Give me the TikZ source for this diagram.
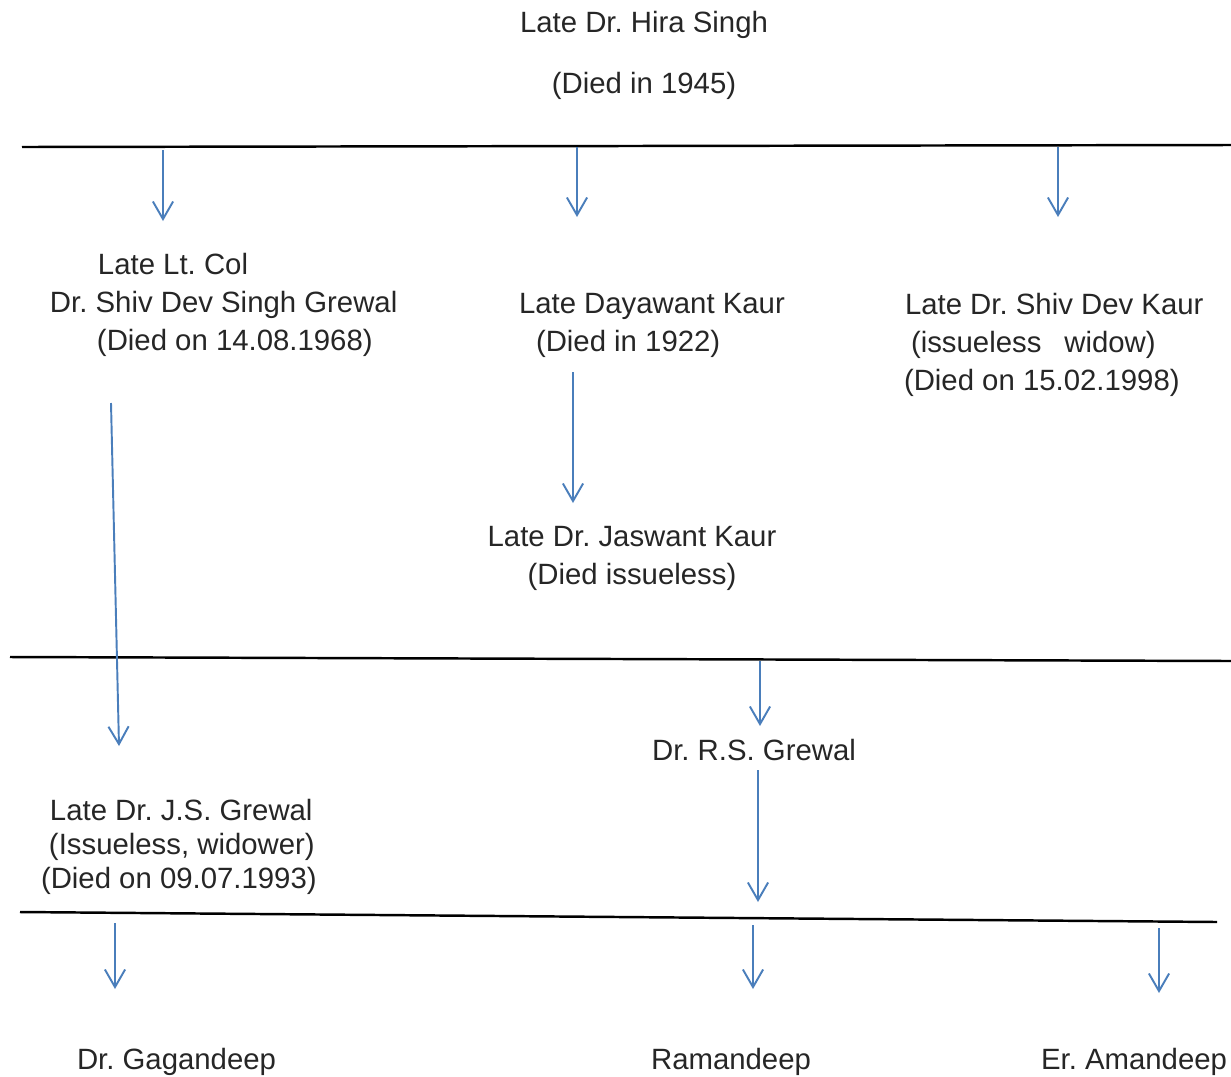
\documentclass[tikz,border=0pt]{standalone}
\usepackage{fontspec}
\setmainfont{Liberation Sans}
\usetikzlibrary{arrows.meta}
\frenchspacing
\newlength{\pxu}\setlength{\pxu}{0.02cm}
\definecolor{linkblue}{RGB}{74,126,187}
\definecolor{inkgray}{RGB}{38,38,38}
\tikzset{person/.style={inner sep=0pt,outer sep=0pt,text=inkgray,align=left,
        anchor=base west,font=\fontsize{16.7}{21.6}\selectfont},
        generation/.style={line width=1.4pt,black},
        descent/.style={draw=linkblue,line width=1.1pt,
        -{Straight Barb[length=10pt,width=11.5pt,line width=1.1pt]}}}

\begin{document}
\begin{tikzpicture}[x=0.02cm,y=-0.02cm]
\useasboundingbox (0,0) rectangle (1231,1076);

\node[person,align=center,anchor=base,font=\fontsize{16.7}{34.7}\selectfont]
     (hira) at (644,93) {Late Dr. Hira Singh\\(Died in 1945)};

\draw[generation] (22,147) coordinate (r1w) -- (1231,145) coordinate (r1e);
\draw[generation] (10,657) coordinate (r2w) -- (1231,661) coordinate (r2e);
\draw[generation] (20,912) coordinate (r3w) -- (1217,922) coordinate (r3e);

\node[person] (shivdev) at (50,350)
     {\hspace*{48\pxu}Late Lt. Col\\Dr. Shiv Dev Singh Grewal\\\hspace*{47\pxu}(Died on 14.08.1968)};
\node[person] (dayawant) at (519,351)
     {Late Dayawant Kaur\\\hspace*{17\pxu}(Died in 1922)};
\node[person] (sdkaur) at (904,390)
     {\hspace*{1\pxu}Late Dr. Shiv Dev Kaur\\\hspace*{7\pxu}(issueless\hspace{23\pxu}widow)\\(Died on 15.02.1998)};
\node[person,align=center,anchor=base] (jaswant) at (632,584)
     {Late Dr. Jaswant Kaur\\(Died issueless)};
\node[person,anchor=base] (rsgrewal) at (754,760) {Dr. R.S. Grewal};
\node[person,font=\fontsize{16.7}{19.1}\selectfont] (jsgrewal) at (41,888)
     {\hspace*{9\pxu}Late Dr. J.S. Grewal\\\hspace*{8\pxu}(Issueless, widower)\\(Died on 09.07.1993)};
\node[person] (gagan) at (77,1069) {Dr. Gagandeep};
\node[person,anchor=base] (raman) at (731,1069) {Ramandeep};
\node[person,anchor=base] (aman) at (1134,1069) {Er. Amandeep};

\coordinate (s1) at (163,150);  \coordinate (t1) at (163,221);
\coordinate (s2) at (577,147);  \coordinate (t2) at (577,217);
\coordinate (s3) at (1058,147); \coordinate (t3) at (1058,217);
\coordinate (s4) at (573,372);  \coordinate (t4) at (573,503);
\coordinate (s5) at (111,403);  \coordinate (t5) at (119,746);
\coordinate (s6) at (760,661);  \coordinate (t6) at (760,726);
\coordinate (s7) at (758,770);  \coordinate (t7) at (758,902);
\coordinate (s8) at (115,923);  \coordinate (t8) at (115,989);
\coordinate (s9) at (753,925);  \coordinate (t9) at (753,989);
\coordinate (s10) at (1159,928); \coordinate (t10) at (1159,993);
\foreach \i in {1,...,10}
  \draw[descent] (s\i) -- (t\i);
\end{tikzpicture}
\end{document}
